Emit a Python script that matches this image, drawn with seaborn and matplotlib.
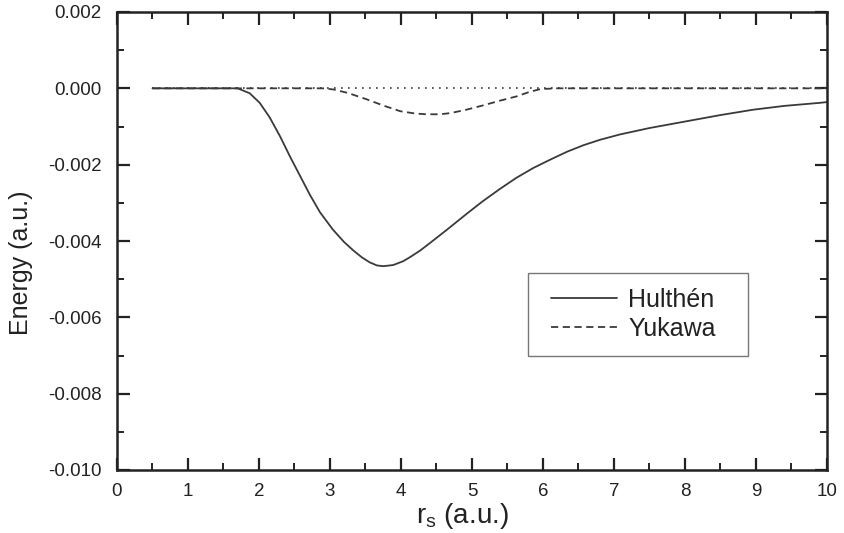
import numpy as np
import pandas as pd
import matplotlib
matplotlib.use("Agg")
import matplotlib.pyplot as plt
from matplotlib.ticker import MultipleLocator, FormatStrFormatter
from matplotlib.legend_handler import HandlerLine2D
from matplotlib.lines import Line2D
import seaborn as sns

# Hulthén binding energy vs. Wigner-Seitz radius
r_hulthen = [0.5, 1.0, 1.5, 1.7, 1.87, 2.01, 2.15, 2.30, 2.44, 2.58, 2.72,
             2.86, 3.04, 3.2, 3.33, 3.45, 3.56, 3.66, 3.75, 3.89, 4.03, 4.13,
             4.27, 4.41, 4.65, 4.93, 5.15, 5.39, 5.62, 5.86, 6.1, 6.34, 6.57,
             6.80, 7.08, 7.5, 8.03, 8.5, 8.96, 9.4, 9.9, 10.0]
e_hulthen = [0.0, 0.0, 0.0, 0.0, -0.00013, -0.00038, -0.00076, -0.00127,
             -0.0018, -0.0023, -0.0028, -0.00325, -0.0037, -0.00403, -0.00425,
             -0.00443, -0.00456, -0.00464, -0.00466, -0.00463, -0.00453,
             -0.00442, -0.00425, -0.00405, -0.0037, -0.00328, -0.00296,
             -0.00264, -0.00235, -0.00209, -0.00187, -0.00166, -0.00149,
             -0.00135, -0.00121, -0.00104, -0.00086, -0.0007, -0.00056,
             -0.00046, -0.00038, -0.00036]

# Yukawa binding energy
r_yukawa = [0.5, 1.0, 2.0, 2.9, 3.05, 3.25, 3.52, 3.75, 3.99, 4.2, 4.36, 4.55,
            4.69, 4.9, 5.15, 5.4, 5.63, 5.8, 5.96, 6.2, 7.0, 8.0, 9.0, 10.0]
e_yukawa = [0.0, 0.0, 0.0, 0.0, -0.00003, -0.00012, -0.00029, -0.00045,
            -0.0006, -0.00066, -0.00068, -0.00068, -0.00065, -0.00057,
            -0.00045, -0.00032, -0.00021, -0.0001, -0.00002, 0.0, 0.0, 0.0,
            0.0, 0.0]

# Zero-energy reference
r_zero = [0.5, 10.0]
e_zero = [0.0, 0.0]

df = pd.concat([
    pd.DataFrame({"r": r_hulthen, "E": e_hulthen, "model": "Hulthén"}),
    pd.DataFrame({"r": r_yukawa, "E": e_yukawa, "model": "Yukawa"}),
])

sns.set_style("ticks")
plt.rcParams["font.family"] = ["Liberation Sans", "DejaVu Sans"]
plt.rcParams["mathtext.default"] = "regular"
plt.rcParams["lines.solid_joinstyle"] = "round"

fig = plt.figure(figsize=(8.45, 5.33), dpi=100)
ax = fig.add_axes([117 / 845, 1 - 470 / 533, 710 / 845, 458 / 533])

line_color = "#3a3a3a"
sns.lineplot(data=pd.DataFrame({"r": r_zero, "E": e_zero}), x="r", y="E",
             ax=ax, color=line_color, lw=1.2, linestyle=(0, (1, 3.2)),
             legend=False)
sns.lineplot(data=df, x="r", y="E", style="model", ax=ax, color=line_color,
             lw=1.3, dashes={"Hulthén": "", "Yukawa": (4, 2.5)},
             estimator=None, sort=False)

ax.set_xlim(0, 10)
ax.set_ylim(-0.010, 0.002)
ax.xaxis.set_major_locator(MultipleLocator(1))
ax.xaxis.set_minor_locator(MultipleLocator(0.5))
ax.yaxis.set_major_locator(MultipleLocator(0.002))
ax.yaxis.set_minor_locator(MultipleLocator(0.001))
ax.yaxis.set_major_formatter(FormatStrFormatter("%.3f"))

ax.tick_params(which="both", direction="in", top=True, right=True,
               colors="#222222", labelcolor="#222222", labelsize=13.5)
ax.tick_params(which="major", length=9, width=1.6)
ax.tick_params(which="minor", length=5, width=1.4)
ax.tick_params(axis="x", pad=9)
ax.tick_params(axis="y", pad=11)
for s in ax.spines.values():
    s.set_linewidth(1.8)
    s.set_color("#222222")

ax.set_xlabel(r"r$_{s}$ (a.u.)", fontsize=20, color="#222222")
ax.set_ylabel("Energy (a.u.)", fontsize=18, color="#222222")
ax.xaxis.set_label_coords(0.487, -0.068)
ax.yaxis.set_label_coords(-0.118, 0.452)

handles, labels = ax.get_legend_handles_labels()
leg = ax.legend(handles, labels, loc="lower left",
                bbox_to_anchor=(0.579, 0.249, 0.31, 0.181),
                mode="expand", frameon=True, fancybox=False, fontsize=18,
                handlelength=3.25, borderaxespad=0, borderpad=0.6,
                labelspacing=0.2, handletextpad=0.15,
                handler_map={Line2D: HandlerLine2D(numpoints=2, marker_pad=0.3)})
leg.get_frame().set_edgecolor("#555555")
leg.get_frame().set_linewidth(1.0)
for t in leg.get_texts():
    t.set_color("#222222")

fig.savefig("out.png", dpi=100)
